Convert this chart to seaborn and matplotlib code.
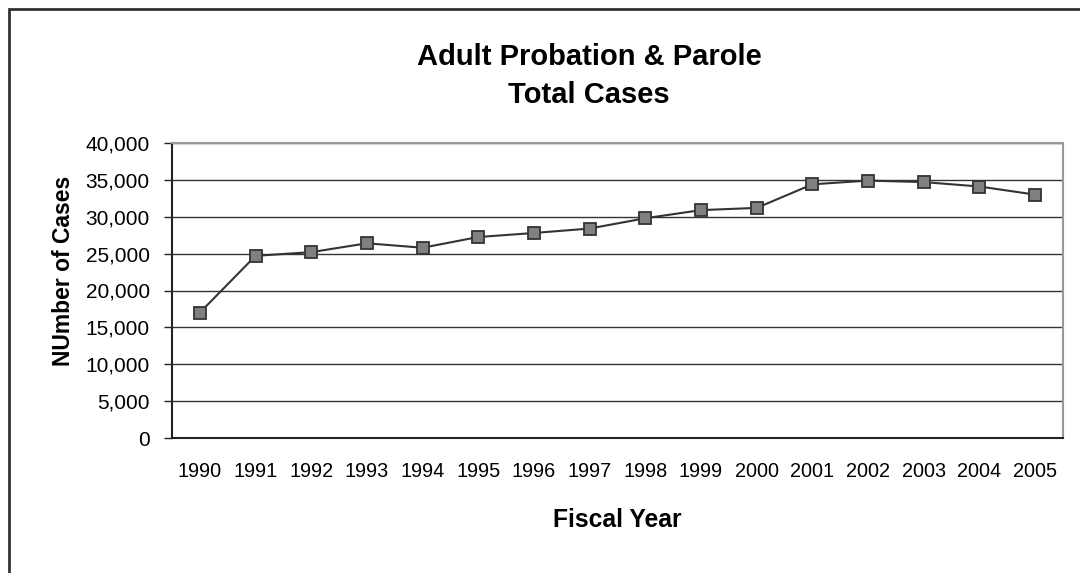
import matplotlib
matplotlib.use("Agg")
import matplotlib.pyplot as plt
import matplotlib.ticker as mticker
from matplotlib.patches import Rectangle
import pandas as pd
import seaborn as sb

years = ["1990", "1991", "1992", "1993", "1994", "1995", "1996", "1997",
         "1998", "1999", "2000", "2001", "2002", "2003", "2004", "2005"]
cases = [17000, 24700, 25200, 26400, 25800, 27250, 27800, 28400,
         29800, 30900, 31200, 34400, 34900, 34700, 34100, 33000]
y_ticks = [0, 5000, 10000, 15000, 20000, 25000, 30000, 35000, 40000]

df = pd.DataFrame({"pos": range(len(years)), "Year": years, "Cases": cases})

sb.set_style("white")
plt.rcParams["font.family"] = ["Liberation Sans", "DejaVu Sans"]
plt.rcParams["text.color"] = "black"
plt.rcParams["axes.labelcolor"] = "black"
plt.rcParams["xtick.color"] = "black"
plt.rcParams["ytick.color"] = "black"

fig = plt.figure(figsize=(10.8, 5.73), dpi=100)
ax = fig.add_axes([172 / 1080, 1 - 438 / 573, (1063 - 172) / 1080, (438 - 143) / 573])

# outer chart frame (cut off on the right and bottom)
fig.patches.append(Rectangle((9 / 1080, -0.1), 1.2, 1.1 - 9 / 573,
                             transform=fig.transFigure, fill=False,
                             edgecolor="#333333", linewidth=2))

sb.lineplot(data=df, x="pos", y="Cases", ax=ax, color="#333333", linewidth=1.5,
            marker="s", markersize=8.5, markerfacecolor="#808080",
            markeredgecolor="#333333", markeredgewidth=1.3)

ax.set_xlim(-0.5, len(years) - 0.5)
ax.set_ylim(0, 40000)
ax.set_yticks(y_ticks)
ax.yaxis.set_major_formatter(mticker.FuncFormatter(lambda v, p: f"{int(v):,}"))
ax.grid(axis="y", color="#333333", linewidth=1)
ax.set_axisbelow(True)

ax.set_xticks([i - 0.5 for i in range(len(years) + 1)])
ax.set_xticklabels([])
ax.set_xticks(range(len(years)), minor=True)
ax.set_xticklabels(years, minor=True)
ax.tick_params(axis="x", which="major", length=6, width=1, color="#222222", direction="out")
ax.tick_params(axis="x", which="minor", length=0, labelsize=14.3, pad=17)
ax.tick_params(axis="y", length=6, width=1, color="#222222", labelsize=15, pad=10, left=True)

for s in ["left", "bottom"]:
    ax.spines[s].set_color("#222222")
    ax.spines[s].set_linewidth(1.5)
for s in ["top", "right"]:
    ax.spines[s].set_color("#999999")
    ax.spines[s].set_linewidth(1.5)

ax.set_xlabel("Fiscal Year", fontsize=17.7, fontweight="bold")
ax.xaxis.set_label_coords(0.5, (438 - 520) / 295)
ax.xaxis.label.set_va("center")
ax.set_ylabel("NUmber of Cases", fontsize=16.5, fontweight="bold")
ax.yaxis.set_label_coords((63 - 172) / 891, (438 - 271) / 295)
ax.yaxis.label.set_va("center")

fig.text(589 / 1080, 1 - 76 / 573, "Adult Probation & Parole\nTotal Cases",
         ha="center", va="center", fontsize=21, fontweight="bold", linespacing=1.45)

fig.savefig("out.png", dpi=100)
